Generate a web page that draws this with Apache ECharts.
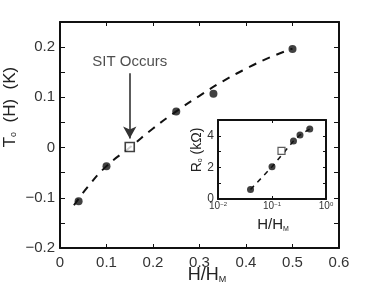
<!DOCTYPE html>
<html><head><meta charset="utf-8">
<script src="https://cdn.jsdelivr.net/npm/echarts@6/dist/echarts.min.js"></script>
<style>html,body{margin:0;padding:0;background:#fff}#c{width:374px;height:295px}</style>
</head><body><div id="c"></div>
<script>
// ---- data ----
const mainX = [0.04, 0.1, 0.25, 0.33, 0.5];
const mainY = [-0.107, -0.037, 0.072, 0.107, 0.196];
const sitX = [0.15];
const sitY = [0.001];
const fitX = [0.03, 0.06, 0.1, 0.15, 0.2, 0.25, 0.3, 0.35, 0.4, 0.45, 0.5];
const fitY = [-0.115, -0.078, -0.037, 0.0, 0.038, 0.072, 0.103, 0.132, 0.157, 0.179, 0.197];
const mainXTicks = ['0', '0.1', '0.2', '0.3', '0.4', '0.5', '0.6'];
const mainYTickValues = [-0.2, -0.1, 0, 0.1, 0.2];
const mainYTicks = ['\u22120.2', '\u22120.1', '0', '0.1', '0.2'];
const arrowX = [0.15, 0.15];
const arrowY = [0.148, 0.018];
const annotationX = [0.15];
const annotationY = [0.17];
const annotationText = 'SIT Occurs';

const insetX = [0.04, 0.1, 0.25, 0.33, 0.5];
const insetY = [0.6, 2.04, 3.67, 4.05, 4.43];
const insetSitX = [0.15];
const insetSitY = [3.04];
const insetXTicks = ['10{s|\u22122}', '10{s|\u22121}', '10{s|0}'];
const insetYTickValues = [0, 2, 4];
const insetYTicks = ['0', '2', '4'];

const FONT = 'Liberation Sans, Arial, Helvetica, sans-serif';
const INK = '#111';
const LBL = '#333';

function pairs(xs, ys) { return xs.map((x, i) => [x, ys[i]]); }

const frame = {show: true, onZero: false, lineStyle: {color: INK, width: 2}};
const tick = (len) => ({show: true, inside: true, length: len, lineStyle: {color: INK, width: 1}});

const chart = echarts.init(document.getElementById('c'), null, {renderer: 'canvas'});
chart.setOption({
  animation: false,
  backgroundColor: '#fff',
  textStyle: {fontFamily: FONT},
  grid: [
    {left: 60, top: 22, width: 279, height: 226, containLabel: false},
    {left: 218, top: 120, width: 108, height: 79, containLabel: false, show: true, backgroundColor: '#fff', borderWidth: 0}
  ],
  xAxis: [
    {type: 'value', gridIndex: 0, position: 'bottom', min: 0, max: 0.6, interval: 0.1,
     axisLine: frame, axisTick: tick(4), splitLine: {show: false},
     axisLabel: {color: LBL, fontSize: 15, fontFamily: FONT, margin: 7,
       formatter: v => mainXTicks[Math.round(v * 10)] ?? ''}},
    {type: 'value', gridIndex: 0, position: 'top', min: 0, max: 0.6, interval: 0.1,
     axisLine: frame, axisTick: tick(4), splitLine: {show: false}, axisLabel: {show: false}},
    {type: 'log', gridIndex: 1, position: 'bottom', min: 0.01, max: 1, logBase: 10,
     axisLine: frame, axisTick: tick(3), splitLine: {show: false}, minorTick: {show: false},
     axisLabel: {color: LBL, fontSize: 10, fontFamily: FONT, margin: 2,
       formatter: v => insetXTicks[Math.round(Math.log10(v)) + 2] ?? '',
       rich: {s: {fontSize: 6, verticalAlign: 'top', color: LBL, fontFamily: FONT, padding: [0, 0, 5, 0]}}}},
    {type: 'log', gridIndex: 1, position: 'top', min: 0.01, max: 1, logBase: 10,
     axisLine: frame, axisTick: tick(3), splitLine: {show: false}, axisLabel: {show: false}}
  ],
  yAxis: [
    {type: 'value', gridIndex: 0, position: 'left', min: -0.2, max: 0.25, interval: 0.05,
     axisLine: frame, axisTick: tick(5), splitLine: {show: false},
     axisLabel: {color: LBL, fontSize: 15, fontFamily: FONT, margin: 5,
       formatter: v => { const i = mainYTickValues.findIndex(t => Math.abs(t - v) < 1e-6); return i >= 0 ? mainYTicks[i] : ''; }}},
    {type: 'value', gridIndex: 0, position: 'right', min: -0.2, max: 0.25, interval: 0.05,
     axisLine: frame, axisTick: tick(5), splitLine: {show: false}, axisLabel: {show: false}},
    {type: 'value', gridIndex: 1, position: 'left', min: 0, max: 5, interval: 1,
     axisLine: frame, axisTick: tick(3), splitLine: {show: false},
     axisLabel: {color: LBL, fontSize: 12, fontFamily: FONT, margin: 4,
       formatter: v => { const i = insetYTickValues.indexOf(Math.round(v)); return i >= 0 && Math.abs(v - Math.round(v)) < 1e-6 ? insetYTicks[i] : ''; }}},
    {type: 'value', gridIndex: 1, position: 'right', min: 0, max: 5, interval: 1,
     axisLine: frame, axisTick: tick(3), splitLine: {show: false}, axisLabel: {show: false}}
  ],
  series: [
    {type: 'line', xAxisIndex: 0, yAxisIndex: 0, data: pairs(fitX, fitY), smooth: true,
     showSymbol: false, symbol: 'none', lineStyle: {color: INK, width: 2, type: [8, 7]}, z: 2},
    {type: 'scatter', xAxisIndex: 0, yAxisIndex: 0, data: pairs(mainX, mainY), symbol: 'circle',
     symbolSize: 8, itemStyle: {color: INK}, z: 3},
    {type: 'scatter', xAxisIndex: 0, yAxisIndex: 0, data: pairs(sitX, sitY), symbol: 'rect',
     symbolSize: 9, itemStyle: {color: '#fff', borderColor: INK, borderWidth: 1.6}, z: 3},
    {type: 'line', xAxisIndex: 0, yAxisIndex: 0, data: [], silent: true,
     markLine: {silent: true, symbol: ['none', 'arrow'], symbolSize: [10, 12],
       lineStyle: {color: '#333', width: 1.6, type: 'solid'}, label: {show: false},
       data: [[{coord: [arrowX[0], arrowY[0]]}, {coord: [arrowX[1], arrowY[1]]}]]}},
    {type: 'scatter', xAxisIndex: 0, yAxisIndex: 0, data: pairs(annotationX, annotationY),
     symbolSize: 0, silent: true,
     label: {show: true, position: 'inside', formatter: annotationText, color: '#222', fontSize: 15, fontFamily: FONT}},
    {type: 'line', xAxisIndex: 2, yAxisIndex: 2, data: pairs(insetX, insetY), showSymbol: false,
     symbol: 'none', lineStyle: {color: INK, width: 1.5, type: [5, 5]}, z: 5},
    {type: 'scatter', xAxisIndex: 2, yAxisIndex: 2, data: pairs(insetX, insetY), symbol: 'circle',
     symbolSize: 7, itemStyle: {color: INK}, z: 6},
    {type: 'scatter', xAxisIndex: 2, yAxisIndex: 2, data: pairs(insetSitX, insetSitY), symbol: 'rect',
     symbolSize: 7, itemStyle: {color: '#fff', borderColor: '#333', borderWidth: 1.2}, z: 6}
  ],
  graphic: [
    {type: 'text', x: 207, y: 275, style: {text: 'H/H{sub|M}', fontSize: 18, fontFamily: FONT,
      fill: '#222', align: 'center', verticalAlign: 'middle',
      rich: {sub: {fontSize: 9, fontFamily: FONT, fill: '#222', verticalAlign: 'bottom', padding: [10, 0, 0, 0]}}}},
    {type: 'text', x: 10, y: 107, rotation: Math.PI / 2, style: {text: 'T{sub|o}  (H)  (K)', fontSize: 17, fontFamily: FONT,
      fill: '#222', align: 'center', verticalAlign: 'middle',
      rich: {sub: {fontSize: 9, fontFamily: FONT, fill: '#222', padding: [8, 0, 0, 0]}}}},
    {type: 'text', x: 273, y: 225, style: {text: 'H/H{sub|M}', fontSize: 15, fontFamily: FONT,
      fill: '#222', align: 'center', verticalAlign: 'middle',
      rich: {sub: {fontSize: 7, fontFamily: FONT, fill: '#222', padding: [8, 0, 0, 0]}}}},
    {type: 'text', x: 197, y: 150, rotation: Math.PI / 2, style: {text: 'R{sub|o} (k\u03A9)', fontSize: 14, fontFamily: FONT,
      fill: '#222', align: 'center', verticalAlign: 'middle',
      rich: {sub: {fontSize: 7, fontFamily: FONT, fill: '#222', padding: [6, 0, 0, 0]}}}}
  ]
});
</script></body></html>
